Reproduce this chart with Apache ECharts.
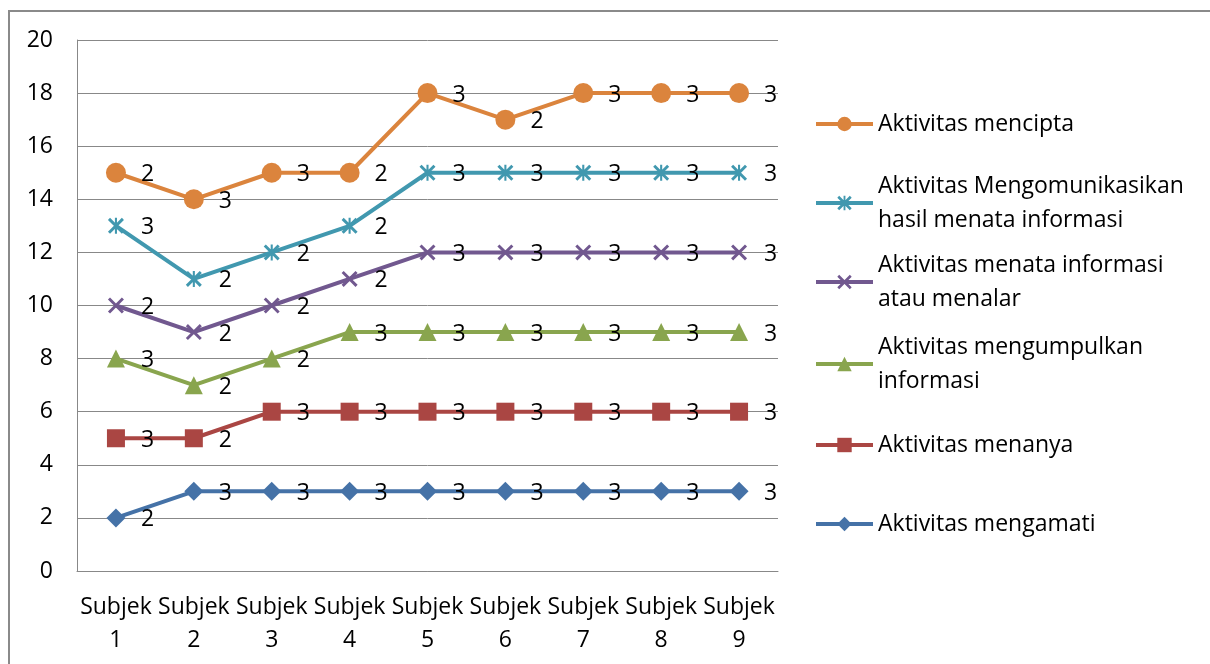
<!DOCTYPE html>
<html>
<head>
<meta charset="utf-8">
<script src="https://cdn.jsdelivr.net/npm/echarts@6/dist/echarts.min.js"></script>
<style>
  html, body { margin: 0; padding: 0; background: #fff; }
  #chart { width: 1210px; height: 664px; }
</style>
</head>
<body>
<div id="chart"></div>
<script>
// Categories and tick labels
const categories = ['Subjek\n1', 'Subjek\n2', 'Subjek\n3', 'Subjek\n4', 'Subjek\n5', 'Subjek\n6', 'Subjek\n7', 'Subjek\n8', 'Subjek\n9'];
const yMin = 0, yMax = 20, yStep = 2;

// Per-subject scores of each activity (stacked on top of each other)
const mengamati = [2, 3, 3, 3, 3, 3, 3, 3, 3];
const menanya = [3, 2, 3, 3, 3, 3, 3, 3, 3];
const mengumpulkan = [3, 2, 2, 3, 3, 3, 3, 3, 3];
const menata = [2, 2, 2, 2, 3, 3, 3, 3, 3];
const mengomunikasikan = [3, 2, 2, 2, 3, 3, 3, 3, 3];
const mencipta = [2, 3, 3, 2, 3, 2, 3, 3, 3];

const seriesNames = [
  'Aktivitas mengamati',
  'Aktivitas menanya',
  'Aktivitas mengumpulkan informasi',
  'Aktivitas menata informasi atau menalar',
  'Aktivitas Mengomunikasikan hasil menata informasi',
  'Aktivitas mencipta'
];

const FONT = '"Open Sans", "Noto Sans", sans-serif';
const FS = 23;

// Thin-stroke marker shapes drawn as filled outlines
const xMark = 'path://M0,1.3 L1.3,0 L10,8.7 L8.7,10 Z M8.7,0 L10,1.3 L1.3,10 L0,8.7 Z';
const starMark = 'path://M0,1.3 L1.3,0 L10,8.7 L8.7,10 Z M8.7,0 L10,1.3 L1.3,10 L0,8.7 Z M4.35,0 L5.65,0 L5.65,10 L4.35,10 Z';

const styles = [
  { data: mengamati, color: '#4572A7', symbol: 'diamond', size: 19 },
  { data: menanya, color: '#AA4643', symbol: 'rect', size: 18 },
  { data: mengumpulkan, color: '#89A54E', symbol: 'triangle', size: 18 },
  { data: menata, color: '#71588F', symbol: xMark, size: 16 },
  { data: mengomunikasikan, color: '#4198AF', symbol: starMark, size: 16 },
  { data: mencipta, color: '#DB843D', symbol: 'circle', size: 20 }
];

const series = styles.map((s, i) => ({
  name: seriesNames[i],
  type: 'line',
  stack: 'total',
  data: s.data,
  symbol: s.symbol,
  symbolSize: s.size,
  showAllSymbol: true,
  lineStyle: { width: 4, color: s.color },
  itemStyle: { color: s.color, opacity: 1 },
  label: {
    show: true,
    position: 'right',
    // keep the value text at a fixed gap from the point centre
    distance: 25 - s.size / 2,
    offset: [0, 2],
    color: '#000',
    fontFamily: FONT,
    fontSize: FS
  },
  z: 2 + i
}));

// Legend blocks on the right, listed top-down in reverse series order
const legendLayout = [
  { idx: 5, center: 124, text: 'Aktivitas mencipta' },
  { idx: 4, center: 203, text: 'Aktivitas Mengomunikasikan\nhasil menata informasi' },
  { idx: 3, center: 282, text: 'Aktivitas menata informasi\natau menalar' },
  { idx: 2, center: 364, text: 'Aktivitas mengumpulkan\ninformasi' },
  { idx: 1, center: 445, text: 'Aktivitas menanya' },
  { idx: 0, center: 524, text: 'Aktivitas mengamati' }
];
const LH = 34;
const legends = legendLayout.map(l => {
  const multi = l.text.indexOf('\n') >= 0;
  return {
    left: 814,
    top: multi ? l.center - LH * 1.5 : l.center - LH / 2,
    padding: 0,
    itemWidth: 57,
    itemHeight: 18,
    itemGap: 0,
    selectedMode: false,
    data: [seriesNames[l.idx]],
    formatter: () => l.text,
    lineStyle: { width: 4 },
    textStyle: {
      fontFamily: FONT,
      fontSize: FS,
      color: '#000',
      lineHeight: LH,
      padding: multi ? [LH, 0, 0, 0] : 0
    }
  };
});

const chart = echarts.init(document.getElementById('chart'), null, { renderer: 'canvas' });
chart.setOption({
  animation: false,
  backgroundColor: '#fff',
  grid: { left: 77, right: 432, top: 40, bottom: 93, containLabel: false },
  legend: legends,
  xAxis: {
    type: 'category',
    data: categories,
    boundaryGap: true,
    axisLine: { show: true, lineStyle: { color: '#888', width: 1 } },
    axisTick: { show: false },
    axisLabel: {
      interval: 0,
      margin: 20,
      color: '#000',
      fontFamily: FONT,
      fontSize: FS,
      lineHeight: 33
    }
  },
  yAxis: {
    type: 'value',
    min: yMin,
    max: yMax,
    interval: yStep,
    axisLine: { show: true, lineStyle: { color: '#888', width: 1 } },
    axisTick: { show: false },
    splitLine: { show: true, lineStyle: { color: '#888', width: 1 } },
    axisLabel: {
      margin: 24,
      color: '#000',
      fontFamily: FONT,
      fontSize: FS
    }
  },
  series: series,
  graphic: [
    {
      type: 'polyline',
      shape: { points: [[9, 672], [9, 11], [1215, 11]] },
      style: { stroke: '#8a8a8a', lineWidth: 2, fill: null },
      silent: true
    }
  ]
});
</script>
</body>
</html>
